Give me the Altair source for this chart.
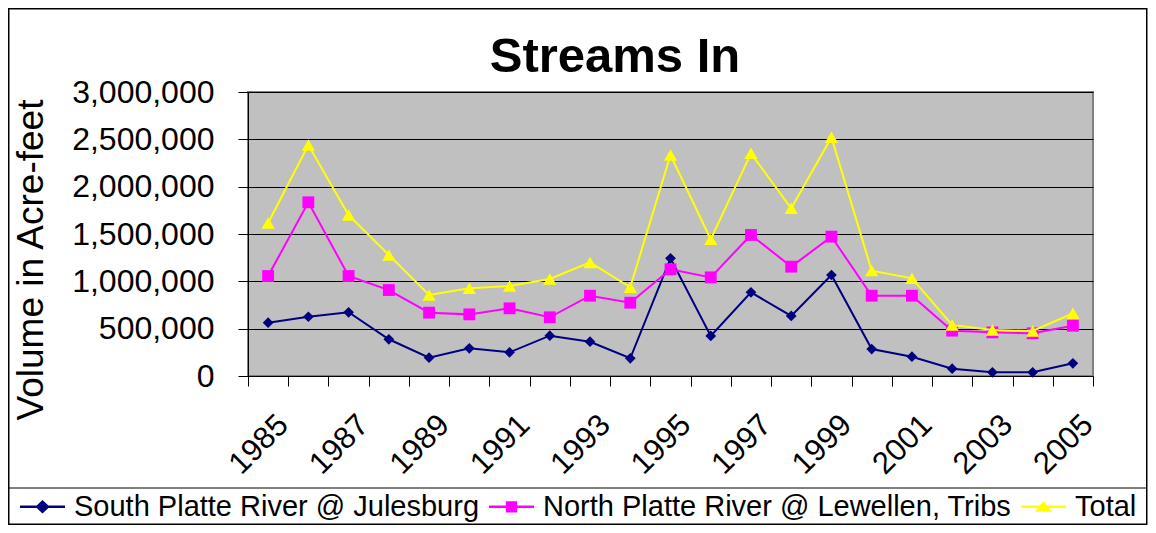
import altair as alt
import pandas as pd

# ---------------- data ----------------
years = list(range(1985, 2006))
south = [563000, 626000, 673000, 388000, 193000, 292000, 250000, 426000, 362000, 187000,
         1243000, 423000, 884000, 634000, 1067000, 285000, 204000, 77000, 39000, 39000, 134000]
north = [1056000, 1835000, 1056000, 908000, 669000, 651000, 715000, 620000, 848000, 774000,
         1127000, 1042000, 1490000, 1155000, 1472000, 848000, 848000, 479000, 461000, 451000, 531000]
total = [1616000, 2440000, 1700000, 1278000, 856000, 926000, 951000, 1025000, 1200000, 937000,
         2335000, 1444000, 2352000, 1771000, 2521000, 1113000, 1032000, 539000, 486000, 475000, 662000]

series_names = ["South Platte River @ Julesburg", "North Platte River @ Lewellen, Tribs", "Total"]
y_ticks = [0, 500000, 1000000, 1500000, 2000000, 2500000, 3000000]
title_text = "Streams In"
y_title = "Volume in Acre-feet"

# ---------------- styles ----------------
series_colors = ["#000080", "#FF00FF", "#FFFF00"]
series_shapes = ["diamond", "square", "triangle-up"]
marker_sizes = [115, 140, 175]
LINE = "M-1,-0.06H1V0.06H-1Z "
legend_paths = [
    LINE + "M0,-0.3L0.32,0L0,0.3L-0.32,0Z",
    LINE + "M-0.25,-0.25H0.25V0.25H-0.25Z",
    LINE + "M0,-0.26L0.38,0.22H-0.38Z",
]
FONT = "Arial, Liberation Sans, sans-serif"

rows = []
for name, vals in zip(series_names, [south, north, total]):
    for yr, v in zip(years, vals):
        rows.append({"year": yr, "series": name, "value": v})
df = pd.DataFrame(rows)

x_enc = alt.X(
    "year:O",
    scale=alt.Scale(paddingInner=0, paddingOuter=0),
    axis=alt.Axis(
        title=None, labelAngle=-45, labelAlign="right", labelBaseline="middle",
        labelFontSize=31, labelFont=FONT, labelColor="black", labelPadding=34,
        labelOffset=15,
        tickSize=10, tickColor="black", domainColor="black", tickBand="extent",
        labelExpr="(datum.value - 1985) % 2 == 0 ? datum.label : ''",
        labelOverlap=False, grid=False,
    ),
)
y_enc = alt.Y(
    "value:Q",
    scale=alt.Scale(domain=[0, 3000000], nice=False),
    axis=alt.Axis(
        values=y_ticks, format=",d", title=y_title,
        titleFontSize=37, titleFont=FONT, titleFontWeight="normal", titleColor="black",
        titleAngle=-90, titleX=-206, titleY=167.5, titleAlign="center",
        titleBaseline="alphabetic",
        labelFontSize=32, labelFont=FONT, labelColor="black", labelPadding=24,
        tickSize=10, tickColor="black", domainColor="black",
        gridColor="black", gridWidth=1, gridOpacity=1,
    ),
)

base = alt.Chart(df)
one = pd.DataFrame({"t": [title_text]})

frame = alt.Chart(one).mark_rect(fillOpacity=0, stroke="black", strokeWidth=1.5).encode(
    x=alt.value(-239.25), x2=alt.value(898.75), y=alt.value(-83.25), y2=alt.value(432.25)
)
divider = alt.Chart(one).mark_rule(color="black", strokeWidth=1).encode(
    x=alt.value(-240), x2=alt.value(898.75), y=alt.value(396)
)
title = alt.Chart(one).mark_text(
    font=FONT, fontSize=49, fontWeight="bold", color="black",
    align="center", baseline="alphabetic"
).encode(text="t:N", x=alt.value(367), y=alt.value(-20))

layers = [frame, divider, title]
for i, name in enumerate(series_names):
    sub = base.transform_filter(alt.datum.series == name)
    layers.append(sub.mark_line(color=series_colors[i], strokeWidth=2).encode(x=x_enc, y=y_enc))
    layers.append(sub.mark_point(shape=series_shapes[i], filled=True, size=marker_sizes[i],
                                 color=series_colors[i], opacity=1).encode(x=x_enc, y=y_enc))

leg = alt.Legend(
    title=None, orient="none", legendX=-228, legendY=392, direction="horizontal",
    columns=3, columnPadding=9, labelOffset=9, symbolSize=2025, symbolStrokeWidth=0,
    labelFontSize=29, labelFont=FONT, labelColor="black", labelLimit=1000, padding=0,
    symbolOpacity=1,
)
legend_layer = base.transform_filter("datum.value < 0").mark_point(
    filled=True, size=2025, opacity=1
).encode(
    x=x_enc, y=y_enc,
    color=alt.Color("series:N", scale=alt.Scale(domain=series_names, range=series_colors), legend=leg),
    shape=alt.Shape("series:N", scale=alt.Scale(domain=series_names, range=legend_paths), legend=leg),
)
layers.append(legend_layer)

chart = alt.layer(*layers).properties(
    width=845, height=284,
    padding={"left": 240, "top": 84, "right": 55, "bottom": 149},
    autosize=alt.AutoSizeParams(type="none"),
    background="white",
).configure_view(fill="#C0C0C0", stroke="#808080", strokeWidth=2)

chart.save("out.html", embed_options={"renderer": "svg", "actions": False})
